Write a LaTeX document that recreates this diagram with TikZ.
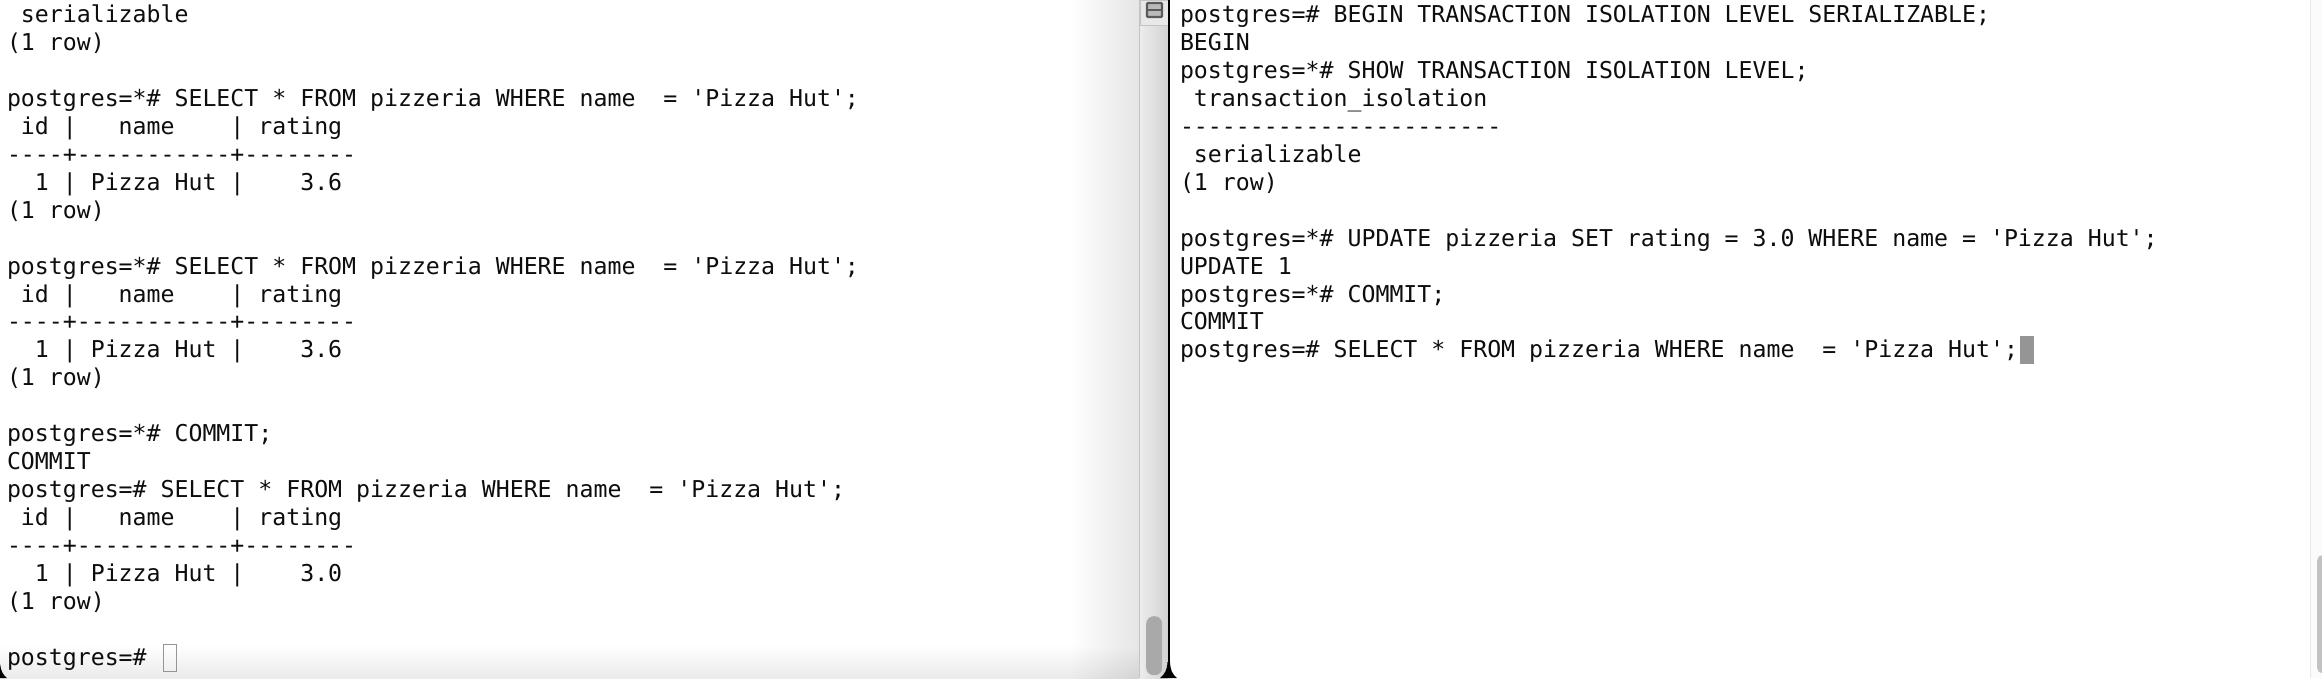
\documentclass[tikz,border=0pt]{standalone}
\usepackage{fontspec}
\setmonofont{DejaVu Sans Mono}
\definecolor{txt}{HTML}{0D0D0D}
\definecolor{trackA}{HTML}{EDEDED}
\definecolor{trackB}{HTML}{D2D2D2}
\definecolor{edgegray}{HTML}{C4C4C4}
\definecolor{thumbgray}{HTML}{A9A9A9}
\definecolor{thumbR}{HTML}{C2C2C2}
\definecolor{icongray}{HTML}{5A5A5A}
\definecolor{curgray}{HTML}{959595}
\tikzset{
  term/.style={anchor=base west, inner sep=0pt, outer sep=0pt, text=txt,
    font=\ttfamily\fontsize{23.2}{28}\selectfont},
  cursorbox/.style={anchor=north west, inner sep=0pt, outer sep=0pt,
    minimum width=13pt, minimum height=27pt},
}
\newcommand{\lnY}[1]{22.5+#1*27.95}
\begin{document}
\begin{tikzpicture}[x=1pt,y=-1pt]
\useasboundingbox (0,0) rectangle (2322,678);
\fill[white] (0,0) rectangle (2322,678);
% left pane shading
\shade[left color=white, right color=gray!20] (1070,0) rectangle (1139,678);
\shade[top color=white, bottom color=black, opacity=0.08] (0,645) rectangle (1139,678);
% scrollbar track of left pane
\shade[left color=trackA, right color=trackB] (1139,0) rectangle (1167.5,678);
\draw[edgegray, line width=1pt] (1139,0) -- (1139,678);
% scrollbar top icon
\node[draw=edgegray, fill=gray!18, line width=0.8pt, anchor=north west, inner sep=0pt,
  minimum width=28pt, minimum height=25pt] (iconbox) at (1139.5,0) {};
\node[draw=icongray, line width=2.2pt, fill=gray!55, rounded corners=1pt, inner sep=0pt,
  minimum width=15pt, minimum height=14pt] (icon) at (1154.5,10) {};
\draw[icongray, line width=2.2pt] (icon.west) -- (icon.east);
% scrollbar thumb
\node[fill=thumbgray, rounded corners=7.5pt, inner sep=0pt, anchor=north west,
  minimum width=16pt, minimum height=59pt] (thumbL) at (1146,616) {};
% divider
\fill[black] (1167.5,0) rectangle (1170,678);
\fill[black] (1160,678) .. controls (1165,674) and (1167,670) .. (1167.5,662)
  -- (1170,662) .. controls (1170.5,670) and (1172,674) .. (1177,678) -- cycle;
\fill[black] (0,664) .. controls (1,671) and (3,675) .. (7,678) -- (0,678) -- cycle;
% right pane scrollbar
\fill[gray!3] (2310,0) rectangle (2322,678);
\draw[gray!18, line width=1pt] (2310,0) -- (2310,678);
\node[fill=thumbR, rounded corners=5pt, inner sep=0pt, anchor=north west,
  minimum width=12pt, minimum height=118pt] (thumbR) at (2317,555) {};

% ---------------- left pane text ----------------
\node[term] (L0)  at (7,{\lnY{0}})  {~serializable};
\node[term] (L1)  at (7,{\lnY{1}})  {(1~row)};
\node[term] (L3)  at (7,{\lnY{3}})  {postgres=*\#~SELECT~*~FROM~pizzeria~WHERE~name~~=~'Pizza~Hut';};
\node[term] (L4)  at (7,{\lnY{4}})  {~id~|~~~name~~~~|~rating};
\node[term] (L5)  at (7,{\lnY{5}})  {----+-----------+--------};
\node[term] (L6)  at (7,{\lnY{6}})  {~~1~|~Pizza~Hut~|~~~~3.6};
\node[term] (L7)  at (7,{\lnY{7}})  {(1~row)};
\node[term] (L9)  at (7,{\lnY{9}})  {postgres=*\#~SELECT~*~FROM~pizzeria~WHERE~name~~=~'Pizza~Hut';};
\node[term] (L10) at (7,{\lnY{10}}) {~id~|~~~name~~~~|~rating};
\node[term] (L11) at (7,{\lnY{11}}) {----+-----------+--------};
\node[term] (L12) at (7,{\lnY{12}}) {~~1~|~Pizza~Hut~|~~~~3.6};
\node[term] (L13) at (7,{\lnY{13}}) {(1~row)};
\node[term] (L15) at (7,{\lnY{15}}) {postgres=*\#~COMMIT;};
\node[term] (L16) at (7,{\lnY{16}}) {COMMIT};
\node[term] (L17) at (7,{\lnY{17}}) {postgres=\#~SELECT~*~FROM~pizzeria~WHERE~name~~=~'Pizza~Hut';};
\node[term] (L18) at (7,{\lnY{18}}) {~id~|~~~name~~~~|~rating};
\node[term] (L19) at (7,{\lnY{19}}) {----+-----------+--------};
\node[term] (L20) at (7,{\lnY{20}}) {~~1~|~Pizza~Hut~|~~~~3.0};
\node[term] (L21) at (7,{\lnY{21}}) {(1~row)};
\node[term] (L23) at (7,{\lnY{23}}) {postgres=\#};
\node[cursorbox, draw=curgray, line width=1.6pt] (lcur) at (163.5,644.5) {};

% ---------------- right pane text ----------------
\node[term] (R0)  at (1180,{\lnY{0}})  {postgres=\#~BEGIN~TRANSACTION~ISOLATION~LEVEL~SERIALIZABLE;};
\node[term] (R1)  at (1180,{\lnY{1}})  {BEGIN};
\node[term] (R2)  at (1180,{\lnY{2}})  {postgres=*\#~SHOW~TRANSACTION~ISOLATION~LEVEL;};
\node[term] (R3)  at (1180,{\lnY{3}})  {~transaction\_isolation};
\node[term] (R4)  at (1180,{\lnY{4}})  {-----------------------};
\node[term] (R5)  at (1180,{\lnY{5}})  {~serializable};
\node[term] (R6)  at (1180,{\lnY{6}})  {(1~row)};
\node[term] (R8)  at (1180,{\lnY{8}})  {postgres=*\#~UPDATE~pizzeria~SET~rating~=~3.0~WHERE~name~=~'Pizza~Hut';};
\node[term] (R9)  at (1180,{\lnY{9}})  {UPDATE~1};
\node[term] (R10) at (1180,{\lnY{10}}) {postgres=*\#~COMMIT;};
\node[term] (R11) at (1180,{\lnY{11}}) {COMMIT};
\node[term] (R12) at (1180,{\lnY{12}}) {postgres=\#~SELECT~*~FROM~pizzeria~WHERE~name~~=~'Pizza~Hut';};
\node[cursorbox, fill=curgray, minimum width=14pt, minimum height=28pt] (rcur) at (2020,336) {};
\end{tikzpicture}
\end{document}
